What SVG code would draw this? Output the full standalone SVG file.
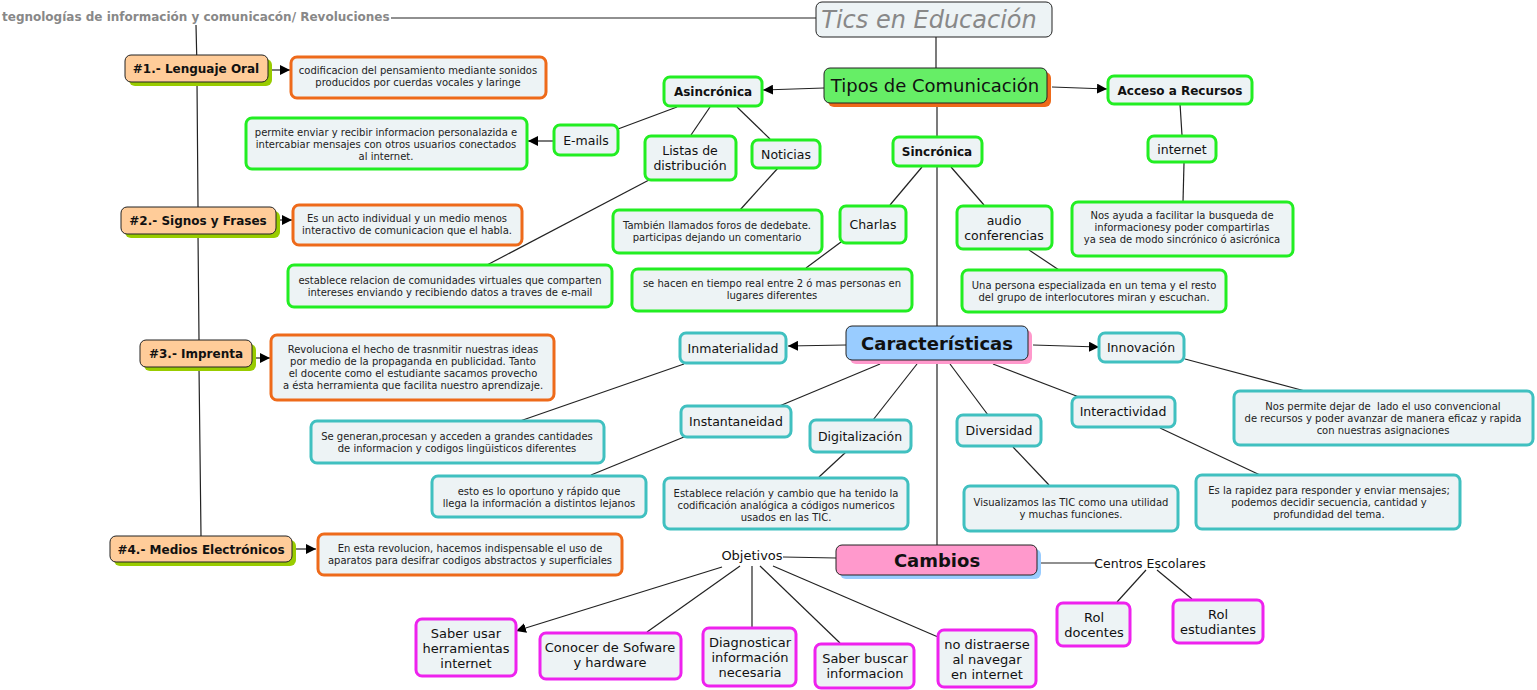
<svg xmlns="http://www.w3.org/2000/svg" width="1537" height="690" viewBox="0 0 1537 690">
<defs>
<marker id="arr" viewBox="0 0 10 10" refX="10" refY="5" markerWidth="10" markerHeight="10" markerUnits="userSpaceOnUse" orient="auto"><path d="M0,0 L10,5 L0,10 z" fill="#000"/></marker>
<style>
text{font-family:"DejaVu Sans","Verdana",sans-serif;fill:#111;text-anchor:middle}
.c line,.c path{stroke:#222;stroke-width:1.2;fill:none}
.a{marker-end:url(#arr)}
.g{fill:#edf3f5;stroke:#22ee22;stroke-width:3}
.o{fill:#edf3f5;stroke:#ee6a1a;stroke-width:3}
.t{fill:#edf3f5;stroke:#40c0c0;stroke-width:3}
.m{fill:#edf3f5;stroke:#ee22ee;stroke-width:3}
.k{stroke:#222;stroke-width:1}
.s{font-size:10px;fill:#222}
.n{font-size:12.5px}
.b{font-size:12px;font-weight:bold}
.h{font-size:18px;font-weight:bold}
.p{font-size:13px}
</style>
</defs>
<rect width="1537" height="690" fill="#fff"/>
<g class="c">
<line x1="391" y1="18" x2="816" y2="18"/>
<path d="M196,25 L197,68 M197,82 L198,207 M198,234 L199,340 M199,367 L201,536"/>
<line x1="936" y1="37" x2="936" y2="68"/>
<line class="a" x1="824" y1="88" x2="763" y2="90"/>
<line class="a" x1="1052" y1="87" x2="1107" y2="89"/>
<line x1="677" y1="107" x2="618" y2="129"/>
<line class="a" x1="554" y1="141" x2="528" y2="141"/>
<line x1="710" y1="107" x2="691" y2="135"/>
<line x1="737" y1="107" x2="770" y2="139"/>
<line x1="649" y1="180" x2="487" y2="265"/>
<line x1="778" y1="168" x2="740" y2="210"/>
<line x1="937" y1="103" x2="937" y2="137"/>
<line x1="937" y1="166" x2="937" y2="326"/>
<line x1="922" y1="167" x2="890" y2="205"/>
<line x1="951" y1="167" x2="984" y2="205"/>
<line x1="841" y1="242" x2="806" y2="268"/>
<line x1="1029" y1="250" x2="1059" y2="270"/>
<line x1="1180" y1="104" x2="1182" y2="135"/>
<line x1="1184" y1="163" x2="1183" y2="202"/>
<line class="a" x1="846" y1="345" x2="788" y2="346"/>
<line class="a" x1="1033" y1="345" x2="1099" y2="347"/>
<line x1="880" y1="364" x2="777" y2="407"/>
<line x1="917" y1="364" x2="873" y2="420"/>
<line x1="950" y1="364" x2="988" y2="415"/>
<line x1="993" y1="364" x2="1079" y2="397"/>
<line x1="937" y1="361" x2="937" y2="545"/>
<line x1="684" y1="364" x2="520" y2="421"/>
<line x1="684" y1="437" x2="591" y2="475"/>
<line x1="846" y1="452" x2="819" y2="477"/>
<line x1="1013" y1="447" x2="1049" y2="485"/>
<line x1="1160" y1="428" x2="1260" y2="475"/>
<line x1="1185" y1="359" x2="1305" y2="391"/>
<line x1="836" y1="558" x2="783" y2="557"/>
<line x1="1041" y1="563" x2="1097" y2="563"/>
<line class="a" x1="722" y1="567" x2="516" y2="631"/>
<line x1="740" y1="566" x2="647" y2="632"/>
<line x1="752" y1="566" x2="752" y2="627"/>
<line x1="760" y1="566" x2="840" y2="643"/>
<line x1="773" y1="566" x2="938" y2="637"/>
<line x1="1146" y1="570" x2="1117" y2="602"/>
<line x1="1157" y1="570" x2="1192" y2="599"/>
<line class="a" x1="272" y1="70" x2="290" y2="70"/>
<line class="a" x1="278" y1="220" x2="292" y2="220"/>
<line class="a" x1="256" y1="358" x2="270" y2="358"/>
<line class="a" x1="296" y1="549" x2="316" y2="549"/>
</g>

<g id="title"><text x="2" y="21" style="font-size:12px;font-weight:bold;fill:#888;text-anchor:start">tegnologías de información y comunicacón/ Revoluciones</text></g>

<g id="tics"><rect x="816" y="2" width="236" height="35" rx="6" fill="#edf3f5" stroke="#222" stroke-width="1"/><text x="929" y="28" style="font-size:24px;font-style:italic;fill:#888">Tics en Educación</text></g>

<g id="tipos"><rect x="828" y="72" width="223" height="35" rx="6" fill="#ee6a1a"/><rect x="824" y="68" width="223" height="35" rx="6" fill="#66ee66" class="k"/><text x="935" y="92" style="font-size:18px">Tipos de Comunicación</text></g>

<g id="asincronica"><rect class="g" x="664" y="77" width="98" height="29" rx="6"/><text class="b" x="713" y="96">Asincrónica</text></g>
<g id="acceso"><rect class="g" x="1108" y="76" width="144" height="28" rx="6"/><text class="b" x="1180" y="95">Acceso a Recursos</text></g>
<g id="emails"><rect class="g" x="554" y="125" width="64" height="30" rx="6"/><text class="n" x="586" y="145">E-mails</text></g>
<g id="permite"><rect class="g" x="246" y="118" width="281" height="51" rx="6"/><text class="s" x="386" y="136">permite enviar y recibir informacion personalazida e</text><text class="s" x="386" y="148">intercabiar mensajes con otros usuarios conectados</text><text class="s" x="386" y="160">al internet.</text></g>
<g id="listas"><rect class="g" x="645" y="136" width="91" height="44" rx="6"/><text class="n" x="690" y="155">Listas de</text><text class="n" x="690" y="170">distribución</text></g>
<g id="noticias"><rect class="g" x="752" y="140" width="68" height="28" rx="6"/><text class="n" x="786" y="159">Noticias</text></g>
<g id="establece"><rect class="g" x="288" y="265" width="324" height="42" rx="6"/><text class="s" x="450" y="284">establece relacion de comunidades virtuales que comparten</text><text class="s" x="450" y="296">intereses enviando y recibiendo datos a traves de e-mail</text></g>
<g id="tambien"><rect class="g" x="613" y="210" width="209" height="43" rx="6"/><text class="s" x="717" y="229">También llamados foros de dedebate.</text><text class="s" x="717" y="241">participas dejando un comentario</text></g>
<g id="sincronica"><rect class="g" x="893" y="137" width="89" height="29" rx="6"/><text class="b" x="937" y="156">Sincrónica</text></g>
<g id="charlas"><rect class="g" x="840" y="206" width="66" height="37" rx="6"/><text class="n" x="873" y="229">Charlas</text></g>
<g id="audio"><rect class="g" x="957" y="206" width="95" height="43" rx="6"/><text class="n" x="1004" y="225">audio</text><text class="n" x="1004" y="240">conferencias</text></g>
<g id="sehacen"><rect class="g" x="632" y="269" width="280" height="42" rx="6"/><text class="s" x="772" y="287">se hacen en tiempo real entre 2 ó mas personas en</text><text class="s" x="772" y="299">lugares diferentes</text></g>
<g id="unapersona"><rect class="g" x="962" y="270" width="264" height="42" rx="6"/><text class="s" x="1094" y="289">Una persona especializada en un tema y el resto</text><text class="s" x="1094" y="301">del grupo de interlocutores miran y escuchan.</text></g>
<g id="internet"><rect class="g" x="1148" y="136" width="68" height="26" rx="6"/><text class="n" x="1182" y="154">internet</text></g>
<g id="nosayuda"><rect class="g" x="1072" y="202" width="221" height="54" rx="6"/><text class="s" x="1182" y="219">Nos ayuda a facilitar la busqueda de</text><text class="s" x="1182" y="231">informacionesy poder compartirlas</text><text class="s" x="1182" y="243">ya sea de modo sincrónico ó asicrónica</text></g>

<g id="caracteristicas"><rect x="850" y="330" width="182" height="34" rx="6" fill="#ff99cc"/><rect x="846" y="326" width="182" height="34" rx="6" fill="#99ccff" class="k"/><text class="h" x="937" y="350">Características</text></g>
<g id="inmaterialidad"><rect class="t" x="680" y="333" width="106" height="30" rx="6"/><text class="n" x="733" y="353">Inmaterialidad</text></g>
<g id="innovacion"><rect class="t" x="1099" y="333" width="85" height="29" rx="6"/><text class="n" x="1141" y="352">Innovación</text></g>
<g id="instantaneidad"><rect class="t" x="681" y="406" width="110" height="31" rx="6"/><text class="n" x="736" y="426">Instantaneidad</text></g>
<g id="digitalizacion"><rect class="t" x="810" y="420" width="101" height="32" rx="6"/><text class="n" x="860" y="441">Digitalización</text></g>
<g id="diversidad"><rect class="t" x="957" y="415" width="84" height="31" rx="6"/><text class="n" x="999" y="435">Diversidad</text></g>
<g id="interactividad"><rect class="t" x="1072" y="397" width="103" height="30" rx="6"/><text class="n" x="1123" y="416">Interactividad</text></g>
<g id="segeneran"><rect class="t" x="311" y="421" width="293" height="42" rx="6"/><text class="s" x="457" y="440">Se generan,procesan y acceden a grandes cantidades</text><text class="s" x="457" y="452">de informacion y codigos lingüisticos diferentes</text></g>
<g id="estoes"><rect class="t" x="432" y="476" width="214" height="41" rx="6"/><text class="s" x="539" y="495">esto es lo oportuno y rápido que</text><text class="s" x="539" y="507">llega la información a distintos lejanos</text></g>
<g id="establece2"><rect class="t" x="664" y="478" width="244" height="51" rx="6"/><text class="s" x="786" y="497">Establece relación y cambio que ha tenido la</text><text class="s" x="786" y="509">codificación analógica a códigos numericos</text><text class="s" x="786" y="521">usados en las TIC.</text></g>
<g id="visualizamos"><rect class="t" x="964" y="486" width="214" height="45" rx="6"/><text class="s" x="1071" y="506">Visualizamos las TIC como una utilidad</text><text class="s" x="1071" y="518">y muchas funciones.</text></g>
<g id="rapidez"><rect class="t" x="1196" y="475" width="264" height="54" rx="6"/><text class="s" x="1329" y="494">Es la rapidez para responder y enviar mensajes;</text><text class="s" x="1329" y="506">podemos decidir secuencia, cantidad y</text><text class="s" x="1329" y="518">profundidad del tema.</text></g>
<g id="nospermite"><rect class="t" x="1234" y="391" width="299" height="54" rx="6"/><text class="s" x="1383" y="410" xml:space="preserve">Nos permite dejar de  lado el uso convencional</text><text class="s" x="1383" y="422">de recursos y poder avanzar de manera eficaz y rapida</text><text class="s" x="1383" y="434">con nuestras asignaciones</text></g>

<g id="cambios"><rect x="840" y="549" width="201" height="30" rx="6" fill="#99ccff"/><rect x="836" y="545" width="201" height="30" rx="6" fill="#ff99cc" class="k"/><text class="h" x="937" y="567">Cambios</text></g>
<g id="objetivos"><text class="p" x="752" y="560">Objetivos</text></g>
<g id="centros"><text x="1150" y="568" style="font-size:12.5px">Centros Escolares</text></g>
<g id="saberusar"><rect class="m" x="416" y="619" width="100" height="57" rx="6"/><text class="p" x="466" y="638">Saber usar</text><text class="p" x="466" y="653">herramientas</text><text class="p" x="466" y="668">internet</text></g>
<g id="conocer"><rect class="m" x="540" y="633" width="141" height="46" rx="6"/><text class="p" x="610" y="652">Conocer de Sofware</text><text class="p" x="610" y="667">y hardware</text></g>
<g id="diagnosticar"><rect class="m" x="703" y="628" width="93" height="58" rx="6"/><text class="p" x="750" y="647">Diagnosticar</text><text class="p" x="750" y="662">información</text><text class="p" x="750" y="677">necesaria</text></g>
<g id="saberbuscar"><rect class="m" x="815" y="644" width="99" height="44" rx="6"/><text class="p" x="865" y="663">Saber buscar</text><text class="p" x="865" y="678">informacion</text></g>
<g id="nodistraerse"><rect class="m" x="938" y="630" width="98" height="57" rx="6"/><text class="p" x="987" y="649">no distraerse</text><text class="p" x="987" y="664">al navegar</text><text class="p" x="987" y="679">en internet</text></g>
<g id="roldocentes"><rect class="m" x="1057" y="603" width="73" height="43" rx="6"/><text class="p" x="1094" y="622">Rol</text><text class="p" x="1094" y="637">docentes</text></g>
<g id="rolestudiantes"><rect class="m" x="1173" y="600" width="90" height="43" rx="6"/><text class="p" x="1218" y="619">Rol</text><text class="p" x="1218" y="634">estudiantes</text></g>

<g id="lenguaje"><rect x="129" y="59" width="143" height="27" rx="6" fill="#99cc00"/><rect x="125" y="55" width="143" height="27" rx="6" fill="#ffcc99" class="k"/><text class="b" x="196" y="73">#1.- Lenguaje Oral</text></g>
<g id="codificacion"><rect class="o" x="291" y="57" width="255" height="41" rx="6"/><text class="s" x="418" y="74">codificacion del pensamiento mediante sonidos</text><text class="s" x="418" y="86">producidos por cuerdas vocales y laringe</text></g>
<g id="signos"><rect x="125" y="211" width="155" height="27" rx="6" fill="#99cc00"/><rect x="121" y="207" width="155" height="27" rx="6" fill="#ffcc99" class="k"/><text class="b" x="198" y="225">#2.- Signos y Frases</text></g>
<g id="acto"><rect class="o" x="293" y="205" width="229" height="40" rx="6"/><text class="s" x="407" y="222">Es un acto individual y un medio menos</text><text class="s" x="407" y="234">interactivo de comunicacion que el habla.</text></g>
<g id="imprenta"><rect x="144" y="344" width="112" height="27" rx="6" fill="#99cc00"/><rect x="140" y="340" width="112" height="27" rx="6" fill="#ffcc99" class="k"/><text class="b" x="196" y="358">#3.- Imprenta</text></g>
<g id="revoluciona"><rect class="o" x="271" y="335" width="283" height="65" rx="6"/><text class="s" x="413" y="353">Revoluciona el hecho de trasnmitir nuestras ideas</text><text class="s" x="413" y="365">por medio de la propaganda en publicidad. Tanto</text><text class="s" x="413" y="377">el docente como el estudiante sacamos provecho</text><text class="s" x="413" y="389">a ésta herramienta que facilita nuestro aprendizaje.</text></g>
<g id="medios"><rect x="114" y="540" width="182" height="26" rx="6" fill="#99cc00"/><rect x="110" y="536" width="182" height="26" rx="6" fill="#ffcc99" class="k"/><text class="b" x="201" y="554">#4.- Medios Electrónicos</text></g>
<g id="enesta"><rect class="o" x="318" y="534" width="304" height="41" rx="6"/><text class="s" x="470" y="552">En esta revolucion, hacemos indispensable el uso de</text><text class="s" x="470" y="564">aparatos para desifrar codigos abstractos y superficiales</text></g>
</svg>
